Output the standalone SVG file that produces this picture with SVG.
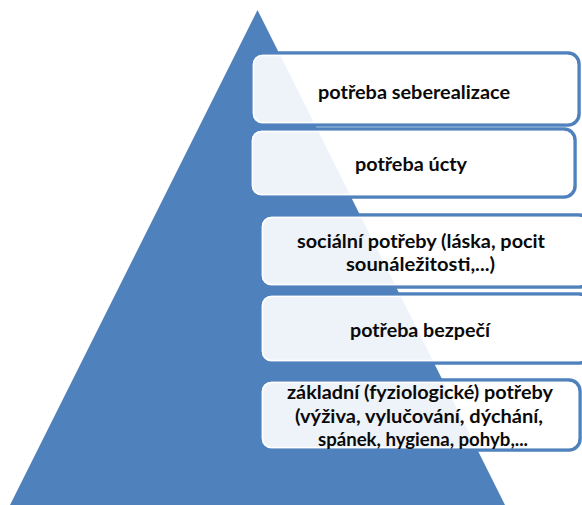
<svg xmlns="http://www.w3.org/2000/svg" width="582" height="505" viewBox="0 0 582 505">
<style>
.box{fill:#ffffff;fill-opacity:0.9;stroke:#4F81BD;stroke-width:3.5}
.inner{fill:none;stroke:#ffffff;stroke-width:1.5}
.t{font-family:Lato,"Liberation Sans",sans-serif;font-size:19.5px;font-weight:bold;fill:#0a0a0a;text-anchor:middle}
.t5{font-size:19px}
</style>
<rect width="582" height="505" fill="#ffffff"/>
<g id="pyramid"><polygon points="257.5,10 10,505 505,505" fill="#4F81BD"/></g>
<g id="n1">
<rect class="box" x="251" y="53" width="328" height="72" rx="11"/>
<rect class="inner" x="253.5" y="55.5" width="323" height="67" rx="9"/>
<text class="t" x="414" y="99" textLength="192" lengthAdjust="spacingAndGlyphs">potřeba seberealizace</text>
</g>
<g id="n2">
<rect class="box" x="250" y="129" width="325" height="68" rx="11"/>
<rect class="inner" x="252.5" y="131.5" width="320" height="63" rx="9"/>
<text class="t" x="411" y="171" textLength="112" lengthAdjust="spacingAndGlyphs">potřeba úcty</text>
</g>
<g id="n3">
<rect class="box" x="260" y="215" width="330" height="72" rx="11"/>
<rect class="inner" x="262.5" y="217.5" width="325" height="67" rx="9"/>
<text class="t" x="421" y="248" textLength="248" lengthAdjust="spacingAndGlyphs">sociální potřeby (láska, pocit</text>
<text class="t" x="420.5" y="271" textLength="149" lengthAdjust="spacingAndGlyphs">sounáležitosti,...)</text>
</g>
<g id="n4">
<rect class="box" x="260" y="294" width="330" height="69" rx="11"/>
<rect class="inner" x="262.5" y="296.5" width="325" height="64" rx="9"/>
<text class="t" x="420" y="337" textLength="140" lengthAdjust="spacingAndGlyphs">potřeba bezpečí</text>
</g>
<g id="n5">
<rect class="box" x="260" y="380" width="320" height="70" rx="11"/>
<rect class="inner" x="262.5" y="382.5" width="315" height="65" rx="9"/>
<text class="t t5" x="420" y="399" textLength="266" lengthAdjust="spacingAndGlyphs">základní (fyziologické) potřeby</text>
<text class="t t5" x="419" y="422.5" textLength="248" lengthAdjust="spacingAndGlyphs">(výživa, vylučování, dýchání,</text>
<text class="t t5" x="423" y="446" textLength="210" lengthAdjust="spacingAndGlyphs">spánek, hygiena, pohyb,...</text>
</g>
<g id="connectors"/>
</svg>
